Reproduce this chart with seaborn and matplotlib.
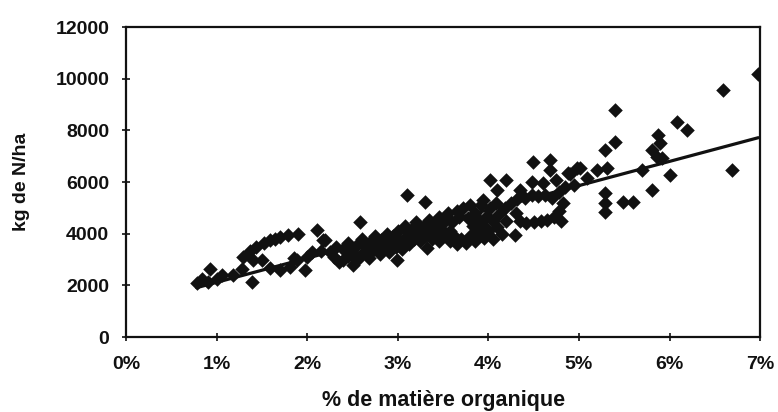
import numpy as np
import pandas as pd
import seaborn as sns
import matplotlib.pyplot as plt
from matplotlib.ticker import FuncFormatter

# ── data: % organic matter vs kg N/ha ───────────────────────────
mo_pct = [
    # low part 0.8 - 2.2 %
    0.78, 0.84, 0.93, 0.90, 1.00, 1.06, 1.18, 1.28, 1.39, 1.37, 1.44, 1.50,
    1.59, 1.70, 1.79, 1.90, 1.59, 1.70, 1.81, 1.89, 1.98, 2.11, 2.17, 2.00,
    1.40, 1.29, 1.52, 1.65, 1.85, 2.05, 2.15,
    # 2.2 - 3.0 %
    2.20, 2.25, 2.30, 2.32, 2.35, 2.40, 2.40, 2.45, 2.45, 2.51, 2.50, 2.55,
    2.55, 2.58, 2.60, 2.62, 2.65, 2.68, 2.70, 2.72, 2.75, 2.78, 2.80, 2.82,
    2.85, 2.88, 2.90, 2.92, 2.95, 2.99, 2.98,
    # 3.0 - 3.5 %
    3.00, 3.02, 3.05, 3.08, 3.10, 3.10, 3.12, 3.15, 3.18, 3.20, 3.22, 3.25,
    3.28, 3.30, 3.30, 3.32, 3.35, 3.35, 3.38, 3.40, 3.42, 3.45, 3.45, 3.48,
    3.50,
    # 3.5 - 4.3 %
    3.52, 3.55, 3.58, 3.58, 3.60, 3.62, 3.65, 3.65, 3.68, 3.70, 3.72, 3.75,
    3.78, 3.80, 3.80, 3.83, 3.85, 3.85, 3.88, 3.90, 3.92, 3.94, 3.95, 3.95,
    3.98, 4.00, 4.02, 4.02, 4.05, 4.05, 4.08, 4.10, 4.10, 4.12, 4.15, 4.18,
    4.20, 4.20, 4.29,
    # 4.2 - 5.2 %
    4.25, 4.30, 4.32, 4.35, 4.40, 4.42, 4.48, 4.50, 4.55, 4.58, 4.62, 4.65,
    4.70, 4.72, 4.78, 4.78, 4.82, 4.85, 4.80,
    4.49, 4.68, 4.68, 4.48, 4.35, 4.60, 4.75, 4.90, 5.01, 5.09, 5.20, 4.95,
    4.98, 4.88,
    # upper right
    6.98, 6.59, 5.40, 6.08, 6.19, 5.40, 5.29, 5.87, 5.89, 5.81, 5.86, 5.92,
    5.31, 5.70, 6.00, 5.81, 6.69, 5.29, 5.29, 5.29, 5.49, 5.60,
]
kg_n_ha = [
    2100, 2250, 2650, 2150, 2250, 2400, 2400, 2650, 2130, 3350, 3480, 2980,
    3750, 3870, 3950, 4000, 2670, 2590, 2710, 2980, 2590, 4140, 3750, 3100,
    2980, 3100, 3650, 3800, 3050, 3300, 3350,
    3750, 3300, 3100, 3500, 2900, 2980, 3400, 3650, 3150, 2800, 3300, 3000,
    3550, 4450, 3800, 3250, 3500, 3050, 3700, 3350, 3900, 3550, 3200, 3750,
    3450, 4000, 3300, 3650, 3900, 2980, 3500,
    4100, 3700, 3400, 4300, 5500, 3900, 3600, 4150, 3800, 4450, 4000, 3700,
    4250, 5230, 3900, 3440, 4550, 4100, 3800, 4350, 4000, 4650, 3700, 4200,
    3900,
    4500, 4800, 4100, 3700, 4450, 3900, 4900, 3600, 4650, 3800, 5000, 3650,
    4600, 3900, 5100, 4300, 3700, 4800, 4050, 4550, 5100, 5300, 3850, 4300,
    4700, 4100, 6080, 5000, 3800, 4500, 5200, 5690, 4250, 4750, 4000, 5000,
    6080, 4500, 3950,
    5200, 4800, 5350, 4500, 5400, 4400, 5500, 4450, 5450, 4500, 5500, 4550,
    5400, 4650, 5600, 4900, 5200, 5800, 4500,
    6770, 6850, 6460, 6000, 5700, 5950, 6100, 6300, 6540, 6150, 6460, 5900,
    6540, 6350,
    10200, 9560, 8780, 8320, 8010, 7550, 7240, 7820, 7510, 7240, 6970, 6930,
    6540, 6460, 6270, 5690, 6460, 5570, 5190, 4840, 5230, 5230,
]
x_ticks = [0, 1, 2, 3, 4, 5, 6, 7]
y_ticks = [0, 2000, 4000, 6000, 8000, 10000, 12000]

df = pd.DataFrame({"mo": mo_pct, "n": kg_n_ha})

sns.set_theme(style="white")
plt.rcParams['font.family'] = ['Liberation Sans', 'DejaVu Sans']

fig = plt.figure(figsize=(7.78, 4.12), dpi=100)
ax = fig.add_axes([0.162, 0.182, 0.815, 0.752])

sns.scatterplot(data=df, x="mo", y="n", marker="D", s=55, color="#111111",
                linewidth=0, ax=ax, zorder=3)
sns.regplot(data=df, x="mo", y="n", scatter=False, ci=None, truncate=True,
            line_kws={"color": "#111111", "lw": 2.3, "zorder": 4}, ax=ax)

ax.set_xlim(0, 7)
ax.set_ylim(0, 12000)
ax.set_xticks(x_ticks)
ax.set_yticks(y_ticks)
ax.xaxis.set_major_formatter(FuncFormatter(lambda v, p: f"{v:.0f}%"))
ax.tick_params(axis="both", direction="inout", length=6, width=1.2,
               colors="#111111", labelsize=14, pad=9)
ax.tick_params(axis="x", pad=11)
ax.tick_params(bottom=True, left=True)
for lab in ax.get_xticklabels() + ax.get_yticklabels():
    lab.set_color("#111111")
    lab.set_fontweight("bold")

for sp in ax.spines.values():
    sp.set_visible(True)
    sp.set_color("#111111")
    sp.set_linewidth(1.6)

ax.set_xlabel("% de matière organique", fontsize=15.5, fontweight="bold",
              color="#111111", labelpad=12)
ax.set_ylabel("kg de N/ha", fontsize=14, fontweight="bold",
              color="#111111", labelpad=18)

fig.savefig("out.png", dpi=100)
